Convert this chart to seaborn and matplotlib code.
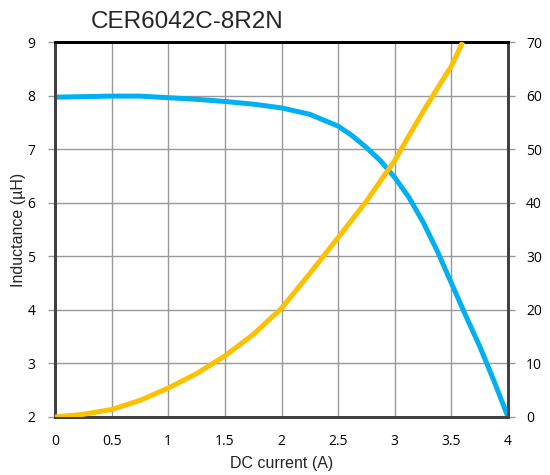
import matplotlib
matplotlib.use("Agg")
import matplotlib.pyplot as plt
import seaborn as sns
import pandas as pd

# Data
ind_current = [0, 0.25, 0.5, 0.75, 1, 1.25, 1.5, 1.75, 2, 2.25, 2.5, 2.625, 2.75, 2.875,
               3, 3.125, 3.25, 3.375, 3.5, 3.625, 3.75, 3.875, 4]
inductance = [7.97, 7.98, 7.99, 7.99, 7.96, 7.93, 7.89, 7.84, 7.77, 7.65, 7.43, 7.25, 7.03, 6.78,
              6.47, 6.10, 5.64, 5.10, 4.50, 3.90, 3.32, 2.68, 2.0]
temp_current = [0, 0.25, 0.5, 0.75, 1, 1.25, 1.5, 1.75, 2, 2.25, 2.5, 2.75, 3, 3.125, 3.25,
                3.375, 3.5, 3.6]
temp_rise = [0, 0.5, 1.4, 3.1, 5.4, 8.1, 11.4, 15.4, 20.3, 26.8, 33.5, 40.3, 47.9, 52.5, 57.0,
             61.3, 65.5, 70]

title = "CER6042C-8R2N"
xlabel = "DC current (A)"
ylabel_left = "Inductance (µH)"
ylabel_right = "Temperature rise (°C)"
x_ticks = [0, 0.5, 1, 1.5, 2, 2.5, 3, 3.5, 4]
x_ticklabels = ["0", "0.5", "1", "1.5", "2", "2.5", "3", "3.5", "4"]
yl_ticks = [2, 3, 4, 5, 6, 7, 8, 9]
yr_ticks = [0, 10, 20, 30, 40, 50, 60, 70]

sns.set_style("white")
plt.rcParams['font.family'] = ['Liberation Sans', 'DejaVu Sans']

df_l = pd.DataFrame({"I": ind_current, "L": inductance})
df_t = pd.DataFrame({"I": temp_current, "T": temp_rise})

fig = plt.figure(figsize=(5.5, 4.75), dpi=100)
ax = fig.add_axes([55/550, 1-417/475, (508-55)/550, (417-42)/475])
ax2 = ax.twinx()

ax.set_xlim(0, 4)
ax.set_ylim(2, 9)

ax.set_xticks(x_ticks)
ax.set_xticklabels(x_ticklabels)
ax.set_yticks(yl_ticks)
ax.grid(True, color="#999999", linewidth=1.0)
ax.set_axisbelow(True)

sns.lineplot(data=df_l, x="I", y="L", ax=ax, color="#00B0F0", linewidth=3.6, zorder=3)
sns.lineplot(data=df_t, x="I", y="T", ax=ax2, color="#FFC000", linewidth=3.6, zorder=3)
for ln in ax.get_lines() + ax2.get_lines():
    ln.set_solid_joinstyle("round")
    ln.set_solid_capstyle("butt")
ax2.set_xlim(0, 4)
ax2.set_ylim(0, 70)
ax2.set_yticks(yr_ticks)

for a in (ax, ax2):
    for s in a.spines.values():
        s.set_visible(True)
        s.set_linewidth(2)
        s.set_color("#404040")
    a.spines["top"].set_color("black")
    a.tick_params(axis="both", which="major", length=5, width=1, color="#999999",
                  labelsize=10, direction="out", labelcolor="black")

ax.tick_params(axis="y", pad=9)
ax2.tick_params(axis="y", pad=8)
ax.tick_params(axis="x", pad=7)

for lab in ax.get_xticklabels() + ax.get_yticklabels() + ax2.get_yticklabels():
    lab.set_family(['Open Sans', 'DejaVu Sans'])
    lab.set_fontsize(10)

ax.set_xlabel(xlabel, fontsize=11.5, labelpad=5)
ax.set_ylabel(ylabel_left, fontsize=11.5)
ax.yaxis.set_label_coords((26-55)/453, 0.5)
ax2.set_ylabel(ylabel_right, fontsize=11.5, rotation=90)
ax2.yaxis.set_label_coords((557-55)/453, 0.5)

fig.text(187/550, 1-22/475, title, ha="center", va="center", fontsize=17.5)

fig.savefig("out.png", dpi=100)
